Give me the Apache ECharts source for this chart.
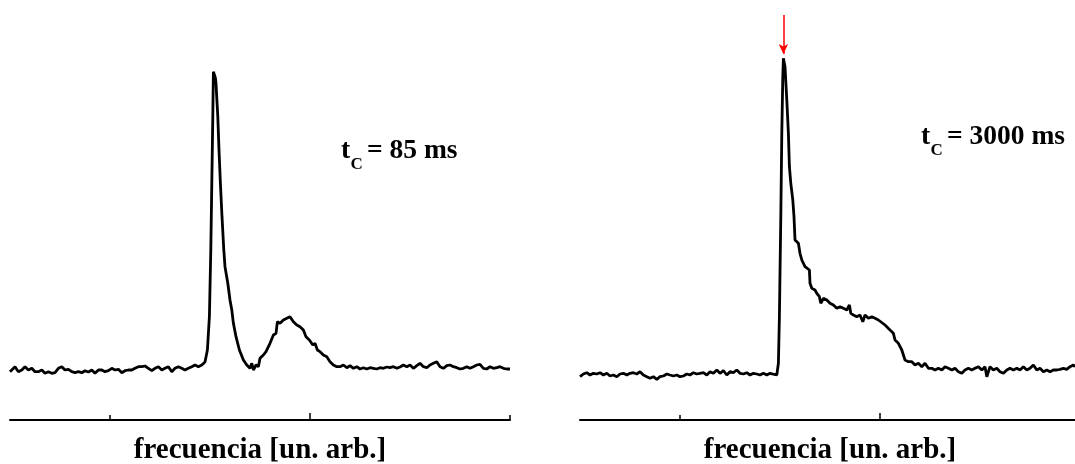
<!DOCTYPE html>
<html>
<head>
<meta charset="utf-8">
<script src="https://cdn.jsdelivr.net/npm/echarts@6/dist/echarts.min.js"></script>
<style>html,body{margin:0;padding:0;background:#fff}#c{width:1075px;height:464px}</style>
</head>
<body>
<div id="c"></div>
<script>
// ---- data (frequency in arbitrary units, intensity in arbitrary units) ----
const leftFreq = [0,0.9,2.5,4.2,5.9,7.5,9.2,10.9,12.5,14.2,15.9,17.5,19.2,20.9,22.5,24.2,25.9,27.5,29.2,30.9,32.5,34.2,35.9,37.5,39.2,40.9,42.5,44.2,45.9,47.5,49.2,50.9,52.5,54.2,55.9,57.5,59.2,60.9,62.5,64.2,65.9,67.5,69.2,70.9,72.5,74.2,75.9,77.5,79.2,80.9,82.5,84.2,85.9,87.5,89.2,90.9,92.5,94.2,95.9,97.5,98.7,99.7,100.4,100.9,101.4,101.7,102.2,102.7,103,103.9,104.5,105.2,106,106.9,107.5,108.9,110,110.9,111.7,113,114.7,116.7,118.4,120,120.9,121.7,123,124.2,125,126.7,128,128.7,130,131.7,133,133.7,135,136.7,138.4,140,140.9,141.7,143.4,145,146.7,148,149.7,151.4,152.5,153.7,155,156.7,158.4,160,161.7,163.4,165,166.7,168.4,170,171.7,173.4,175,176.7,178.4,180,181.7,183.4,185,186.7,188.4,190,191.7,193.4,195,196.7,198.4,200,201.7,203.4,205,206.7,208.4,210,211.7,213.4,215,216.7,218.4,220,221.7,223.4,225,226.7,228.4,230,231.7,233.4,235,236.7,238.4,240,241.7,243.4,245,246.7,248.4,250];
const leftIntensity = [48.3,50,53.3,48.3,50,53.3,50,51.7,48.3,48.3,50,46.7,48.3,46.7,47.3,51.7,53.3,50,50.7,48.3,47.3,48.3,47.3,49.3,48,50,46.7,50,50,48.3,49.3,51.7,50,50.7,47.3,49.3,50,50,51.7,53.3,53.3,54,51.7,49.3,51.7,53.3,50,51.7,53.3,48.3,51.7,53.3,51.7,50,51.7,53.3,55,53.3,55,58,70,103.3,170,236.7,303.3,348.3,349,342,336.7,303.3,270,236.7,203.3,170,153.3,136.7,120,110,96.7,83.3,70,60,55,51.7,56.7,50,55,53.3,61.7,65,68.3,66.7,76.7,85,86.7,98.3,96.7,100,101.7,103.3,105,98.3,95,93.3,90,83.3,80,75,76.7,70,68.3,65,63.3,58.3,55,53.3,53.3,55,52.3,54.3,51.7,53.3,51,52.3,51,52.3,51.7,51,52.3,51.7,53,52.3,53.3,51.7,53,55,53.3,55,51.7,54.3,56.7,53.3,52.3,55,56.7,58.3,53.3,51.7,54.3,55,53.3,52.3,51,51.7,53.3,51.7,53.3,55,55.7,51.7,51,53.3,51.7,52.3,53.3,51.7,51,51];

const rightFreq = [0,1.7,3.4,5,6.7,8.4,10,11.7,13.4,15,16.7,18.4,20,21.7,23.4,25,26.7,28.4,30,31.7,33.4,35,36.7,38.4,40,41.7,43.4,45,46.7,48.4,50,51.7,53.4,55,56.7,58.4,60,61.7,63.4,65,66.7,68.4,70,71.7,73.4,75,76.7,78.4,80,81.7,83.4,85,86.7,88.4,90,91.7,93.4,95,98.4,99.2,99.7,100.4,100.9,101.4,101.7,102.5,103.4,104.2,104.7,105.4,106.4,107,107.5,109.2,110,110.9,112.5,114.7,115,115.9,117.5,118.4,119.7,120.4,121.7,123.4,125,126.7,127.5,128.4,130,131.7,133.4,134.7,135.4,136.7,138.4,140,141.4,142.5,144.2,145.9,147.5,149.2,150,152.5,155,156.7,157.5,159.2,160.9,162.5,164.2,165.9,167.5,169.2,170.9,172.5,174.2,175.9,177.5,179.2,180.9,182.5,184.2,185.9,187.5,189.2,190.9,192.5,194.2,195.9,197.5,199.2,200.9,202.5,203.4,205,206.7,208.4,210,211.7,213.4,215,216.7,218.4,220,221.7,223.4,225,226.7,228.4,230,231.7,233.4,235,236.7,238.4,240,241.7,243.4,245,246.7,247.5];
const rightIntensity = [43.3,46,47.3,45,46.7,46,47.3,45,46.7,44,45,43.3,46,46.7,45,46.7,47.3,46,48.3,45,43.3,41.7,43.3,40.7,43.3,44,46,45,44,45,43.3,44,46,45,47.3,46,46.7,47.3,45,48.3,46.7,50,46.7,49.3,45,48.3,47.3,50,46.7,46,47.3,45,46.7,46,45,46.7,45,46.7,45,56.7,103.3,203.3,286.7,343.3,361.7,353.3,320,286.7,253.3,236.7,220,203.3,180,176.7,166.7,160,153.3,150,136.7,131.7,130,126.7,123.3,116.7,121.7,120,116.7,115,116.7,111.7,113.3,111.7,110,115,106.7,105,103.3,105,98.3,105,101.7,103.3,101.7,100,100,95,90,86.7,80,76.7,70,60,58.3,58.3,55,56.7,53.3,56.7,51.7,51.7,50,51.7,50,53.3,51.7,50,51.7,48.3,46.7,50,51.7,50,51.7,53.3,50,53.3,43.3,53.3,50,51.7,48.3,46.7,50,51.7,50,51.7,50,53.3,50,51.7,55,50,51.7,48.3,50,48.3,50,50,50.7,51.7,50.7,53.3,55,53.3];

const majorTicks = [150];
const minorTicks = [50, 250];
const axisTitle = 'frecuencia [un. arb.]';
const labelLeft = { t: 't', sub: 'C', rest: '= 85 ms' };
const labelRight = { t: 't', sub: 'C', rest: '= 3000 ms' };
const arrowX = 101.7, arrowFrom = 405, arrowTo = 366;

const FONT = '"Liberation Serif", "Times New Roman", serif';
const xMin = 0, xMax = 250;

function pairs(xs, ys) { return xs.map((x, i) => [x, ys[i]]); }

function mainX(grid) {
  return {
    type: 'value', gridIndex: grid, min: xMin, max: xMax, position: 'bottom',
    axisLine: { show: true, lineStyle: { color: '#000', width: 2 } },
    axisTick: { show: true, inside: true, length: 7, customValues: majorTicks, lineStyle: { color: '#000', width: 1.5 } },
    axisLabel: { show: false }, splitLine: { show: false },
    name: axisTitle, nameLocation: 'middle', nameGap: 31,
    nameTextStyle: { fontFamily: FONT, fontWeight: 'bold', fontSize: 29, color: '#000', verticalAlign: 'middle' }
  };
}
function minorX(grid) {
  return {
    type: 'value', gridIndex: grid, min: xMin, max: xMax, position: 'bottom',
    axisLine: { show: false },
    axisTick: { show: true, inside: true, length: 5, customValues: minorTicks, lineStyle: { color: '#000', width: 1.5 } },
    axisLabel: { show: false }, splitLine: { show: false }
  };
}
function yAx(grid) {
  return { type: 'value', gridIndex: grid, min: 0, max: 420, show: false, splitLine: { show: false } };
}
function labelGraphics(lbl, x, yMain) {
  return [
    { type: 'text', x: x, y: yMain, style: { text: lbl.t, font: 'bold 27.5px ' + FONT, fill: '#000', verticalAlign: 'middle', textVerticalAlign: 'middle' } },
    { type: 'text', x: x + 9.5, y: yMain + 14, style: { text: lbl.sub, font: 'bold 17px ' + FONT, fill: '#000', verticalAlign: 'middle', textVerticalAlign: 'middle' } },
    { type: 'text', x: x + 26, y: yMain, style: { text: lbl.rest, font: 'bold 27.5px ' + FONT, fill: '#000', verticalAlign: 'middle', textVerticalAlign: 'middle' } }
  ];
}

const chart = echarts.init(document.getElementById('c'), null, { renderer: 'canvas' });
chart.setOption({
  animation: false,
  backgroundColor: '#fff',
  grid: [
    { left: 10, width: 500, top: 0, bottom: 44, outerBoundsMode: 'none', containLabel: false },
    { left: 580, width: 500, top: 0, bottom: 44, outerBoundsMode: 'none', containLabel: false }
  ],
  xAxis: [mainX(0), minorX(0), mainX(1), minorX(1)],
  yAxis: [yAx(0), yAx(1)],
  series: [
    { type: 'line', xAxisIndex: 0, yAxisIndex: 0, data: pairs(leftFreq, leftIntensity), showSymbol: false, lineStyle: { color: '#000', width: 2.8 }, clip: false },
    { type: 'line', xAxisIndex: 2, yAxisIndex: 1, data: pairs(rightFreq, rightIntensity), showSymbol: false, lineStyle: { color: '#000', width: 2.8 }, clip: false,
      markLine: { silent: true, symbol: ['none', 'arrow'], symbolSize: [7, 10], label: { show: false },
        lineStyle: { color: '#ff0000', width: 1.5, type: 'solid' }, itemStyle: { color: '#ff0000' },
        data: [[{ coord: [arrowX, arrowFrom] }, { coord: [arrowX, arrowTo] }]] } }
  ],
  graphic: [].concat(labelGraphics(labelLeft, 341, 151), labelGraphics(labelRight, 921, 137))
});
</script>
</body>
</html>
